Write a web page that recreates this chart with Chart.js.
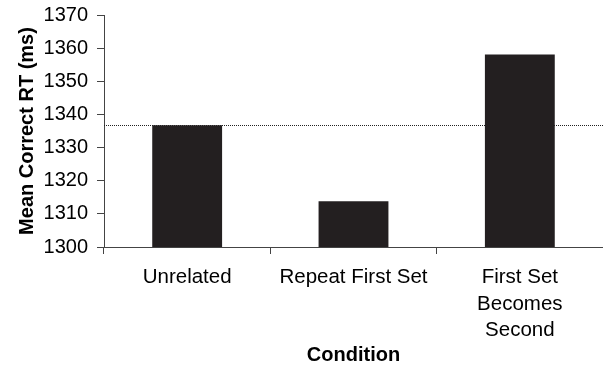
<!DOCTYPE html>
<html>
<head>
<meta charset="utf-8">
<script src="https://cdn.jsdelivr.net/npm/chart.js@4/dist/chart.umd.min.js"></script>
<style>
  html, body { margin: 0; padding: 0; background: #fff; }
  #wrap { width: 603px; height: 367px; }
</style>
</head>
<body>
<div id="wrap"><canvas id="myChart"></canvas></div>
<script>
const conditions = ["Unrelated", "Repeat First Set", ["First Set", "Becomes", "Second"]];
const meanRT = [1336.7, 1313.8, 1358.1];
const referenceRT = 1336.7;
const yTicks = [1300, 1310, 1320, 1330, 1340, 1350, 1360, 1370];

const ctx = document.getElementById("myChart").getContext("2d");

// dotted reference line, drawn before the bars so they cover it
const refLine = {
  id: "refLine",
  beforeDatasetsDraw(chart) {
    const { ctx, chartArea, scales } = chart;
    const y = Math.round(scales.y.getPixelForValue(referenceRT)) + 0.5;
    ctx.save();
    ctx.strokeStyle = "#222";
    ctx.lineWidth = 1;
    ctx.setLineDash([1, 1]);
    ctx.beginPath();
    ctx.moveTo(chartArea.left, y);
    ctx.lineTo(chart.width, y);
    ctx.stroke();
    ctx.restore();
  },
};

new Chart(ctx, {
  type: "bar",
  data: {
    labels: conditions,
    datasets: [
      {
        data: meanRT,
        backgroundColor: "#231f20",
        borderWidth: 0,
        categoryPercentage: 1,
        barPercentage: 0.42,
      },
    ],
  },
  options: {
    responsive: true,
    maintainAspectRatio: false,
    animation: false,
    layout: { padding: { top: 15, right: 0, bottom: 0, left: 0 } },
    plugins: {
      legend: { display: false },
      tooltip: { enabled: false },
    },
    scales: {
      x: {
        grid: {
          drawOnChartArea: false,
          tickLength: 7,
          color: "#444",
        },
        border: { color: "#444", width: 1 },
        ticks: {
          color: "#000",
          padding: 10,
          maxRotation: 0,
          font: { family: "Liberation Sans", size: 20.5, lineHeight: 1.3 },
        },
        title: {
          display: true,
          text: "Condition",
          color: "#000",
          padding: { top: 0, bottom: 0 },
          font: { family: "Liberation Sans", size: 20, weight: "bold" },
        },
        afterFit(scale) {
          scale.height = 120;
        },
      },
      y: {
        min: 1300,
        max: 1370,
        afterBuildTicks(scale) {
          scale.ticks = yTicks.map((v) => ({ value: v }));
        },
        grid: {
          drawOnChartArea: false,
          tickLength: 7,
          color: "#444",
        },
        border: { color: "#444", width: 1 },
        ticks: {
          color: "#000",
          padding: 9,
          font: { family: "Liberation Sans", size: 20 },
          callback: (v) => String(v),
        },
        title: {
          display: true,
          text: "Mean Correct RT (ms)",
          color: "#000",
          padding: { top: 15, bottom: 0 },
          font: { family: "Liberation Sans", size: 20, weight: "bold" },
        },
        afterFit(scale) {
          scale.width = 104;
          scale.paddingTop = 0;
          scale.paddingBottom = 0;
        },
      },
    },
  },
  plugins: [refLine],
});
</script>
</body>
</html>
